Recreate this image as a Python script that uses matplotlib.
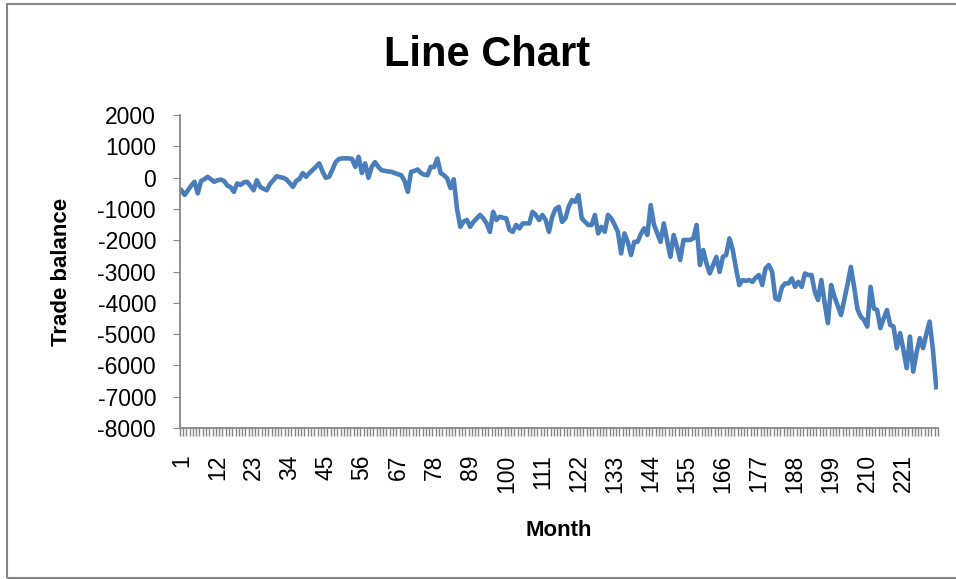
import matplotlib
matplotlib.use("Agg")
import matplotlib.pyplot as plt
from matplotlib.patches import Rectangle
import numpy as np

plt.rcParams['font.family'] = ['Liberation Sans', 'DejaVu Sans']
plt.rcParams['axes.unicode_minus'] = False

# trade balance by month
balance = [
    -400, -550, -400, -250, -130, -500, -100, -50, 30, -50,
    -130, -80, -60, -100, -250, -300, -450, -180, -230, -150,
    -130, -250, -400, -80, -290, -350, -400, -200, -80, 50,
    20, 0, -50, -170, -290, -100, -40, 150, 30, 150,
    250, 350, 460, 200, 0, 30, 250, 500, 600, 620,
    620, 620, 600, 350, 670, 150, 460, 0, 350, 500,
    350, 240, 220, 200, 190, 150, 110, 80, -100, -450,
    190, 220, 265, 150, 100, 80, 350, 340, 615, 150,
    80, -20, -330, -50, -1000, -1570, -1400, -1350, -1570, -1410,
    -1300, -1190, -1300, -1460, -1730, -1090, -1350, -1250, -1280, -1300,
    -1670, -1730, -1510, -1620, -1460, -1460, -1460, -1090, -1190, -1350,
    -1190, -1350, -1730, -1250, -1000, -930, -1410, -1300, -930, -715,
    -770, -555, -1300, -1410, -1510, -1510, -1190, -1780, -1570, -1730,
    -1190, -1300, -1500, -1730, -2420, -1780, -2050, -2470, -2050, -2050,
    -1800, -1620, -1830, -875, -1500, -1780, -2050, -1460, -1990, -2530,
    -1830, -2200, -2630, -1990, -1990, -1990, -1940, -1510, -2790, -2310,
    -2740, -3060, -2800, -2530, -3010, -2530, -2470, -1940, -2300, -2900,
    -3430, -3270, -3300, -3270, -3330, -3200, -3110, -3430, -2900, -2790,
    -3010, -3860, -3910, -3500, -3380, -3380, -3220, -3490, -3330, -3490,
    -3060, -3110, -3110, -3640, -3910, -3270, -4000, -4650, -3430, -3800,
    -4100, -4390, -3900, -3400, -2850, -3500, -4200, -4440, -4550, -4760,
    -3490, -4180, -4230, -4810, -4500, -4230, -4710, -4760, -5450, -4970,
    -5500, -6090, -5080, -6200, -5600, -5130, -5450, -5000, -4600, -5500,
    -6700,
]
months = list(range(1, len(balance) + 1))
x_labels = months[::11]
y_ticks = list(range(-8000, 2001, 1000))

fig = plt.figure(figsize=(9.56, 5.79), dpi=100)
ax = fig.add_axes([0.188, 0.261, 0.793, 0.540])

ax.plot(months, balance, color='#4A7EBB', linewidth=3.3, solid_joinstyle='round')

ax.set_xlim(0.5, len(balance) + 0.5)
ax.set_ylim(-8000, 2000)
ax.set_yticks(y_ticks)
ax.set_xticks(x_labels)
ax.set_xticks(np.arange(0.5, len(balance) + 1, 1), minor=True)
ax.set_xticklabels([str(m) for m in x_labels], rotation=90)

for s in ['top', 'right']:
    ax.spines[s].set_visible(False)
for s in ['left', 'bottom']:
    ax.spines[s].set_color('#868686')
    ax.spines[s].set_linewidth(1.3)

ax.tick_params(axis='y', direction='out', length=5, color='#868686', labelsize=16.5, pad=12)
ax.tick_params(axis='x', which='major', length=0, labelsize=16.5, pad=19)
ax.tick_params(axis='x', which='minor', direction='out', length=6, color='#868686', width=1.0)

# title centred on the whole chart, like Excel
fig.text(0.509, 0.905, "Line Chart", fontsize=30, fontweight='bold', ha='center', va='center')
ax.set_xlabel("Month", fontsize=16, fontweight='bold')
ax.set_ylabel("Trade balance", fontsize=16, fontweight='bold', labelpad=18)
ax.xaxis.set_label_coords(0.5, -0.295)

# chart border
fig.patches.append(Rectangle((0.0075, 0.0015), 1.2, 0.991, transform=fig.transFigure,
                             fill=False, edgecolor='#868686', linewidth=1.5))

plt.savefig('out.png', dpi=100)
